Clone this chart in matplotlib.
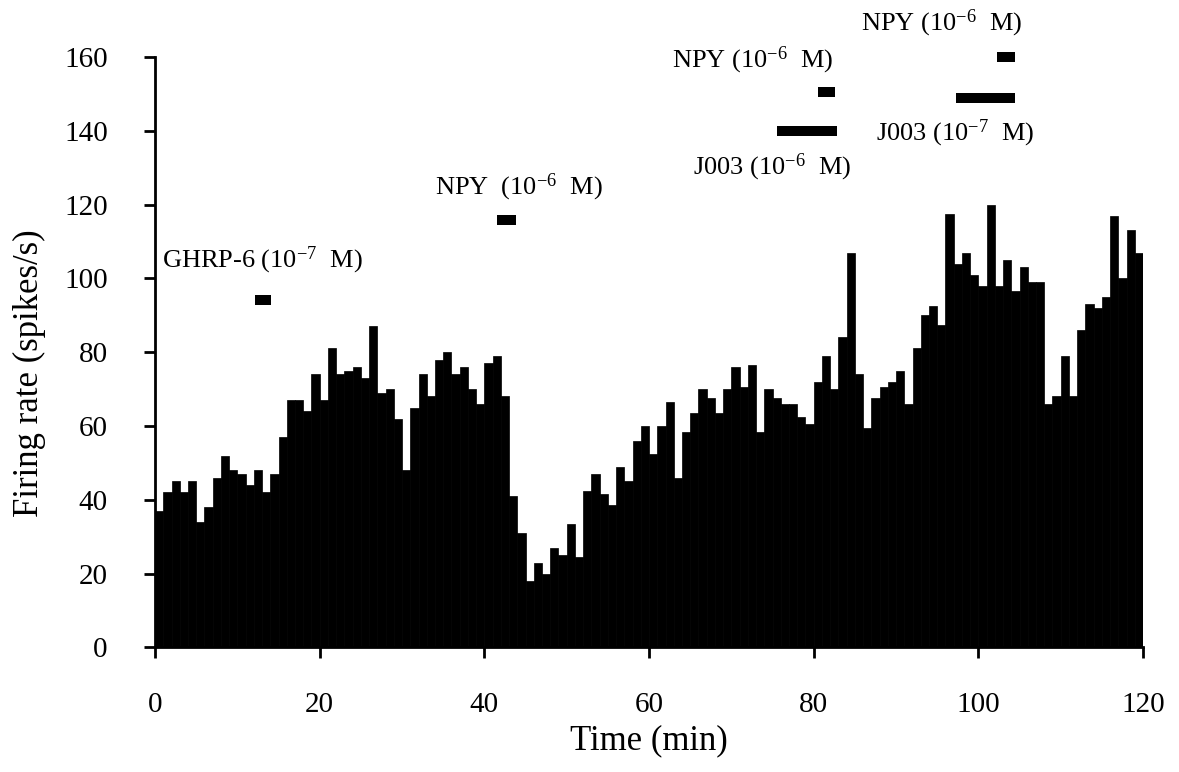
import matplotlib
matplotlib.use('Agg')
import matplotlib.pyplot as plt
import numpy as np

plt.rcParams['font.family'] = ['Liberation Serif', 'DejaVu Serif']
plt.rcParams['mathtext.fontset'] = 'custom'
plt.rcParams['mathtext.rm'] = 'Liberation Serif'
plt.rcParams['mathtext.it'] = 'Liberation Serif:italic'

# 1-min bins, firing rate per bin (spikes/s)
bin_start = np.arange(0, 120)
rate = [37, 42, 45, 42, 45, 34, 38, 46, 52, 48,
        47, 44, 48, 42, 47, 57, 67, 67, 64, 74,
        67, 81, 74, 75, 76, 73, 87, 69, 70, 62,
        48, 65, 74, 68, 78, 80, 74, 76, 70, 66,
        77, 79, 68, 41, 31, 18, 23, 20, 27, 25,
        33.5, 24.5, 42.5, 47, 41.5, 38.5, 49, 45, 56, 60,
        52.5, 60, 66.5, 46, 58.5, 63.5, 70, 67.5, 63.5, 70,
        76, 70.5, 76.5, 58.5, 70, 67.5, 66, 66, 62.5, 60.5,
        72, 79, 70, 84, 107, 74, 59.5, 67.5, 70.5, 72,
        75, 66, 81, 90, 92.5, 87.5, 117.5, 104, 107, 101,
        98, 120, 98, 105, 96.5, 103, 99, 99, 66, 68,
        79, 68, 86, 93, 92, 95, 117, 100, 113, 107]

# drug application bars: start, end (min) and level
drug_start = [12.1, 41.5, 80.5, 75.6, 102.3, 97.3]
drug_end = [14.1, 43.8, 82.6, 82.8, 104.4, 104.5]
drug_level = [94.2, 115.8, 150.5, 140.0, 160.0, 148.8]

# labels for the drug bars
label_text = ['GHRP-6 (10$^{-7}$  M)', 'NPY  (10$^{-6}$  M)', 'NPY (10$^{-6}$  M)',
              'J003 (10$^{-6}$  M)', 'NPY (10$^{-6}$  M)', 'J003 (10$^{-7}$  M)']
label_x = [0.9, 34.0, 62.8, 65.3, 85.8, 87.6]
label_y = [104.8, 124.6, 159.2, 130.0, 169.2, 139.3]

fig = plt.figure(figsize=(11.79, 7.72), dpi=100)
ax = fig.add_axes([0.1315, 0.1613, 0.838, 0.765])

ax.bar(bin_start, rate, width=1.0, align='edge', color='black', edgecolor='black', linewidth=0.5)

for s, e, lv in zip(drug_start, drug_end, drug_level):
    ax.fill_between([s, e], lv - 1.3, lv + 1.3, color='black', linewidth=0, clip_on=False)

for t, x, y in zip(label_text, label_x, label_y):
    ax.text(x, y, t, fontsize=19, ha='left', va='center', clip_on=False)

ax.set_xlim(0, 120)
ax.set_ylim(0, 160)
ax.set_xticks(range(0, 121, 20))
ax.set_yticks(range(0, 161, 20))
ax.spines['top'].set_visible(False)
ax.spines['right'].set_visible(False)
for sp in ['left', 'bottom']:
    ax.spines[sp].set_linewidth(2.0)
ax.tick_params(axis='both', direction='out', length=8, width=2.0, labelsize=21)
ax.tick_params(axis='x', pad=24)
ax.tick_params(axis='y', pad=26)

ax.set_xlabel('Time (min)', fontsize=25)
ax.set_ylabel('Firing rate (spikes/s)', fontsize=25)
ax.xaxis.set_label_coords(0.5, -0.13)
ax.yaxis.set_label_coords(-0.11, 0.465)

fig.savefig('out.png', dpi=100)
